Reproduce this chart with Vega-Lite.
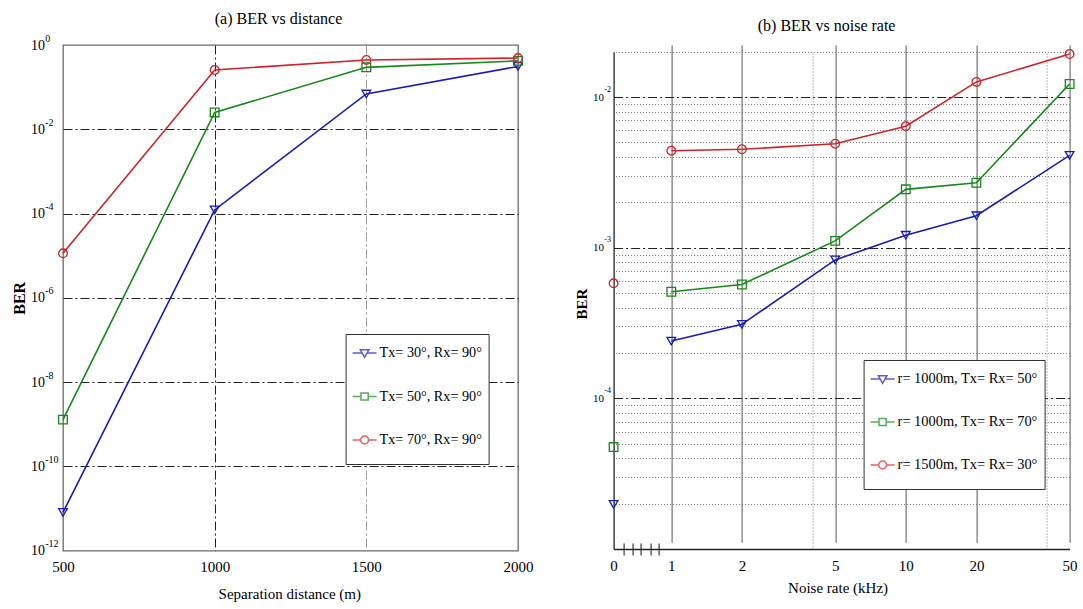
{
  "$schema": "https://vega.github.io/schema/vega-lite/v6.json",
  "background": "white",
  "padding": {"left": 10, "top": 10, "right": 0, "bottom": 0},
  "bounds": "flush",
  "spacing": 95.6,
  "resolve": {
    "scale": {"x": "independent", "y": "independent", "color": "independent", "shape": "independent"},
    "legend": {"color": "independent", "shape": "independent"}
  },
  "config": {
    "font": "Liberation Serif",
    "axis": {"labelFont": "Liberation Serif", "titleFont": "Liberation Serif", "labelColor": "#000", "titleColor": "#000", "ticks": false, "domain": false, "labelOverlap": false, "labelFlush": false},
    "legend": {"labelFont": "Liberation Serif", "labelColor": "#000"},
    "title": {"font": "Liberation Serif", "fontWeight": "normal", "color": "#000", "anchor": "middle"}
  },
  "hconcat": [
    {
      "width": 455,
      "height": 505.7,
      "view": {"stroke": "#6a6a6a", "strokeWidth": 1.3},
      "title": {"text": "(a) BER vs distance", "fontSize": 16, "offset": 5.8, "dx": -12},
      "data": {"values": [
        {"distance": 500, "ber": 8.1e-12, "setting": "Tx= 30°, Rx= 90°"},
        {"distance": 1000, "ber": 1.22e-4, "setting": "Tx= 30°, Rx= 90°"},
        {"distance": 1500, "ber": 0.0688, "setting": "Tx= 30°, Rx= 90°"},
        {"distance": 2000, "ber": 0.31, "setting": "Tx= 30°, Rx= 90°"},
        {"distance": 500, "ber": 1.29e-9, "setting": "Tx= 50°, Rx= 90°"},
        {"distance": 1000, "ber": 0.0251, "setting": "Tx= 50°, Rx= 90°"},
        {"distance": 1500, "ber": 0.295, "setting": "Tx= 50°, Rx= 90°"},
        {"distance": 2000, "ber": 0.42, "setting": "Tx= 50°, Rx= 90°"},
        {"distance": 500, "ber": 1.14e-5, "setting": "Tx= 70°, Rx= 90°"},
        {"distance": 1000, "ber": 0.255, "setting": "Tx= 70°, Rx= 90°"},
        {"distance": 1500, "ber": 0.44, "setting": "Tx= 70°, Rx= 90°"},
        {"distance": 2000, "ber": 0.49, "setting": "Tx= 70°, Rx= 90°"}
      ]},
      "resolve": {
        "scale": {"color": "independent", "shape": "independent"},
        "axis": {"x": "independent", "y": "independent"},
        "legend": {"color": "independent", "shape": "independent"}
      },
      "layer": [
        {
          "mark": {"type": "line", "strokeWidth": 1.6},
          "encoding": {
            "x": {"field": "distance", "type": "quantitative",
              "scale": {"domain": [500, 2000], "nice": false, "zero": false},
              "axis": {"orient": "bottom", "values": [500, 1000, 1500, 2000], "format": "d", "title": "Separation distance (m)", "titleFontSize": 15, "titleFontWeight": "normal",
                "titleX": 226.3, "titleY": 43, "titleAlign": "center", "titleBaseline": "middle",
                "labelFontSize": 15, "labelPadding": 9,
                "grid": true, "gridDash": [9, 3, 2, 3], "gridWidth": 1,
                "gridColor": {"condition": {"test": "datum.value == 1500", "value": "#999"}, "value": "#222"},
                "gridOpacity": {"condition": {"test": "datum.value < 600 || datum.value > 1900", "value": 0}, "value": 1}}},
            "y": {"field": "ber", "type": "quantitative",
              "scale": {"type": "log", "domain": [1e-12, 1], "nice": false},
              "axis": {"orient": "left", "values": [1e-12, 1e-10, 1e-8, 1e-6, 1e-4, 1e-2, 1],
                "labelExpr": "'10'", "labelFontSize": 14, "labelPadding": 18.5,
                "title": "BER", "titleFontSize": 16, "titleFontWeight": "bold", "titleX": -44, "titleY": 252.8, "titleAngle": 270, "titleAlign": "center", "titleBaseline": "middle",
                "grid": true, "gridDash": [9, 3, 2, 3], "gridColor": "#222", "gridWidth": 1,
                "gridOpacity": {"condition": {"test": "datum.value > 0.5 || datum.value < 1e-11", "value": 0}, "value": 1}}},
            "color": {"field": "setting", "type": "nominal",
              "scale": {"domain": ["Tx= 30°, Rx= 90°", "Tx= 50°, Rx= 90°", "Tx= 70°, Rx= 90°"], "range": ["#1a1ab8", "#17881a", "#d0222a"]},
              "legend": null}
          }
        },
        {
          "mark": {"type": "point", "filled": false, "size": 75, "strokeWidth": 1.3, "opacity": 1},
          "encoding": {
            "x": {"field": "distance", "type": "quantitative", "axis": null},
            "y": {"field": "ber", "type": "quantitative",
              "axis": {"orient": "left", "values": [1e-12, 1e-10, 1e-8, 1e-6, 1e-4, 1e-2, 1],
                "labelExpr": "'' + round(log(datum.value) / LN10)", "labelFontSize": 10, "labelPadding": 18.3, "labelAlign": "left", "labelOffset": -7,
                "title": null, "grid": false}},
            "color": {"field": "setting", "type": "nominal",
              "scale": {"domain": ["Tx= 30°, Rx= 90°", "Tx= 50°, Rx= 90°", "Tx= 70°, Rx= 90°"], "range": ["#1a1ab8", "#17881a", "#d0222a"]},
              "legend": null},
            "shape": {"field": "setting", "type": "nominal",
              "scale": {"domain": ["Tx= 30°, Rx= 90°", "Tx= 50°, Rx= 90°", "Tx= 70°, Rx= 90°"], "range": ["triangle-down", "square", "circle"]},
              "legend": null}
          }
        },
        {
          "transform": [{"filter": "false"}],
          "mark": {"type": "point", "filled": false, "strokeWidth": 1.5},
          "encoding": {
            "color": {"field": "setting", "type": "nominal",
              "scale": {"domain": ["Tx= 30°, Rx= 90°", "Tx= 50°, Rx= 90°", "Tx= 70°, Rx= 90°"], "range": ["#1a1ab8", "#17881a", "#d0222a"]},
              "legend": {"title": null, "orient": "none", "legendX": 282.6, "legendY": 289, "fillColor": "white", "strokeColor": "#333", "padding": 6, "labelFontSize": 14.2, "labelOffset": 2, "rowPadding": 7.5, "symbolSize": 576, "symbolStrokeWidth": 1.5}},
            "shape": {"field": "setting", "type": "nominal",
              "scale": {"domain": ["Tx= 30°, Rx= 90°", "Tx= 50°, Rx= 90°", "Tx= 70°, Rx= 90°"],
                "range": ["M-1,0H-0.2M0.2,0H1M-0.36,-0.28H0.36L0,0.36ZM0,-1.2M0,1.2", "M-1,0H-0.3M0.3,0H1M-0.3,-0.3H0.3V0.3H-0.3ZM0,-1.2M0,1.2", "M-1,0H-0.33M0.33,0A0.33,0.33,0,1,1,-0.33,0A0.33,0.33,0,1,1,0.33,0ZM0.33,0H1M0,-1.2M0,1.2"]},
              "legend": {"title": null, "orient": "none", "legendX": 282.6, "legendY": 289, "fillColor": "white", "strokeColor": "#333", "padding": 6, "labelFontSize": 14.2, "labelOffset": 2, "rowPadding": 7.5, "symbolSize": 576, "symbolStrokeWidth": 1.5}}
          }
        }
      ]
    },
    {
      "width": 456,
      "height": 504,
      "view": {"stroke": null},
      "title": {"text": "(b) BER vs noise rate", "fontSize": 16, "offset": 11.3, "dx": -15},
      "data": {"values": [
        {"noise": 0, "ber": 1.98e-5, "config": "r= 1000m, Tx= Rx= 50°"},
        {"noise": 1, "ber": 2.4e-4, "config": "r= 1000m, Tx= Rx= 50°"},
        {"noise": 2, "ber": 3.1e-4, "config": "r= 1000m, Tx= Rx= 50°"},
        {"noise": 5, "ber": 8.3e-4, "config": "r= 1000m, Tx= Rx= 50°"},
        {"noise": 10, "ber": 1.21e-3, "config": "r= 1000m, Tx= Rx= 50°"},
        {"noise": 20, "ber": 1.63e-3, "config": "r= 1000m, Tx= Rx= 50°"},
        {"noise": 50, "ber": 4.1e-3, "config": "r= 1000m, Tx= Rx= 50°"},
        {"noise": 0, "ber": 4.75e-5, "config": "r= 1000m, Tx= Rx= 70°"},
        {"noise": 1, "ber": 5.1e-4, "config": "r= 1000m, Tx= Rx= 70°"},
        {"noise": 2, "ber": 5.7e-4, "config": "r= 1000m, Tx= Rx= 70°"},
        {"noise": 5, "ber": 1.11e-3, "config": "r= 1000m, Tx= Rx= 70°"},
        {"noise": 10, "ber": 2.44e-3, "config": "r= 1000m, Tx= Rx= 70°"},
        {"noise": 20, "ber": 2.7e-3, "config": "r= 1000m, Tx= Rx= 70°"},
        {"noise": 50, "ber": 1.22e-2, "config": "r= 1000m, Tx= Rx= 70°"},
        {"noise": 0, "ber": 5.8e-4, "config": "r= 1500m, Tx= Rx= 30°"},
        {"noise": 1, "ber": 4.4e-3, "config": "r= 1500m, Tx= Rx= 30°"},
        {"noise": 2, "ber": 4.5e-3, "config": "r= 1500m, Tx= Rx= 30°"},
        {"noise": 5, "ber": 4.9e-3, "config": "r= 1500m, Tx= Rx= 30°"},
        {"noise": 10, "ber": 6.4e-3, "config": "r= 1500m, Tx= Rx= 30°"},
        {"noise": 20, "ber": 1.26e-2, "config": "r= 1500m, Tx= Rx= 30°"},
        {"noise": 50, "ber": 1.93e-2, "config": "r= 1500m, Tx= Rx= 30°"}
      ]},
      "resolve": {
        "scale": {"color": "independent", "shape": "independent"},
        "axis": {"x": "independent", "y": "independent"},
        "legend": {"color": "independent", "shape": "independent"}
      },
      "layer": [
        {
          "transform": [{"filter": "datum.noise > 0"}],
          "mark": {"type": "line", "strokeWidth": 1.6},
          "encoding": {
            "x": {"field": "noise", "type": "quantitative",
              "scale": {"type": "linear", "domain": [0, 1, 2, 4, 5, 10, 20, 40, 50], "range": [0, 57.7, 128.3, 198.9, 221.6, 292.2, 362.8, 433.4, 456], "nice": false, "zero": false},
              "axis": {"orient": "top", "values": [4, 40], "labels": false, "ticks": false, "domain": false, "title": null,
                "grid": true, "gridDash": [1, 2], "gridColor": "#777", "gridWidth": 1}},
            "y": {"field": "ber", "type": "quantitative",
              "scale": {"type": "log", "domain": [1e-5, 2e-2], "range": [504, 6.7], "nice": false},
              "axis": {"orient": "right", "values": [2e-5, 3e-5, 4e-5, 5e-5, 6e-5, 7e-5, 8e-5, 9e-5, 2e-4, 3e-4, 4e-4, 5e-4, 6e-4, 7e-4, 8e-4, 9e-4, 2e-3, 3e-3, 4e-3, 5e-3, 6e-3, 7e-3, 8e-3, 9e-3, 2e-2],
                "labels": false, "ticks": false, "domain": false, "title": null,
                "grid": true, "gridDash": [1, 2], "gridColor": "#777", "gridWidth": 1}},
            "color": {"field": "config", "type": "nominal",
              "scale": {"domain": ["r= 1000m, Tx= Rx= 50°", "r= 1000m, Tx= Rx= 70°", "r= 1500m, Tx= Rx= 30°"], "range": ["#1a1ab8", "#17881a", "#d0222a"]},
              "legend": null}
          }
        },
        {
          "mark": {"type": "point", "filled": false, "size": 75, "strokeWidth": 1.3, "opacity": 1},
          "encoding": {
            "x": {"field": "noise", "type": "quantitative",
              "scale": {"type": "linear", "domain": [0, 1, 2, 4, 5, 10, 20, 40, 50], "range": [0, 57.7, 128.3, 198.9, 221.6, 292.2, 362.8, 433.4, 456], "nice": false, "zero": false},
              "axis": {"orient": "bottom", "values": [0, 1, 2, 5, 10, 20, 50], "labelFontSize": 15, "labelPadding": 9,
                "title": "Noise rate (kHz)", "titleFontSize": 15, "titleFontWeight": "normal", "titleX": 224, "titleY": 38.4, "titleAlign": "center", "titleBaseline": "middle",
                "domain": true, "domainColor": "#222", "domainWidth": 1.3,
                "grid": true, "gridColor": "#555", "gridWidth": 1,
                "gridOpacity": {"condition": {"test": "datum.value == 0", "value": 0}, "value": 1}}},
            "y": {"field": "ber", "type": "quantitative",
              "scale": {"type": "log", "domain": [1e-5, 2e-2], "range": [504, 6.7], "nice": false},
              "axis": {"orient": "left", "values": [1e-4, 1e-3, 1e-2],
                "labelExpr": "'10'", "labelFontSize": 11, "labelPadding": 10,
                "title": "BER", "titleFontSize": 15, "titleFontWeight": "bold", "titleX": -32.3, "titleY": 258.7, "titleAngle": 270, "titleAlign": "center", "titleBaseline": "middle",
                "domain": true, "domainColor": "#222", "domainWidth": 1.3,
                "grid": true, "gridDash": [9, 3, 2, 3], "gridColor": "#222", "gridWidth": 1}},
            "color": {"field": "config", "type": "nominal",
              "scale": {"domain": ["r= 1000m, Tx= Rx= 50°", "r= 1000m, Tx= Rx= 70°", "r= 1500m, Tx= Rx= 30°"], "range": ["#1a1ab8", "#17881a", "#d0222a"]},
              "legend": null},
            "shape": {"field": "config", "type": "nominal",
              "scale": {"domain": ["r= 1000m, Tx= Rx= 50°", "r= 1000m, Tx= Rx= 70°", "r= 1500m, Tx= Rx= 30°"], "range": ["triangle-down", "square", "circle"]},
              "legend": null}
          }
        },
        {
          "transform": [{"filter": "false"}],
          "mark": {"type": "point", "filled": false, "strokeWidth": 1.5},
          "encoding": {
            "x": {"field": "noise", "type": "quantitative",
              "scale": {"type": "linear", "domain": [0, 1, 2, 4, 5, 10, 20, 40, 50], "range": [0, 57.7, 128.3, 198.9, 221.6, 292.2, 362.8, 433.4, 456], "nice": false, "zero": false},
              "axis": {"orient": "bottom", "values": [0.18, 0.33, 0.46, 0.64, 0.78], "labels": false, "domain": false, "grid": false, "title": null,
                "ticks": true, "tickSize": 12, "tickColor": "#111", "tickWidth": 1, "offset": -6}},
            "y": {"field": "ber", "type": "quantitative",
              "scale": {"type": "log", "domain": [1e-5, 2e-2], "range": [504, 6.7], "nice": false},
              "axis": {"orient": "left", "values": [1e-4, 1e-3, 1e-2],
                "labelExpr": "'' + round(log(datum.value) / LN10)", "labelFontSize": 8, "labelPadding": 9.8, "labelAlign": "left", "labelOffset": -8,
                "title": null, "grid": false}},
            "color": {"field": "config", "type": "nominal",
              "scale": {"domain": ["r= 1000m, Tx= Rx= 50°", "r= 1000m, Tx= Rx= 70°", "r= 1500m, Tx= Rx= 30°"], "range": ["#1a1ab8", "#17881a", "#d0222a"]},
              "legend": {"title": null, "orient": "none", "legendX": 250, "legendY": 315, "fillColor": "white", "strokeColor": "#333", "padding": 6, "labelFontSize": 14.4, "labelOffset": 2, "rowPadding": 7, "symbolSize": 576, "symbolStrokeWidth": 1.5}},
            "shape": {"field": "config", "type": "nominal",
              "scale": {"domain": ["r= 1000m, Tx= Rx= 50°", "r= 1000m, Tx= Rx= 70°", "r= 1500m, Tx= Rx= 30°"],
                "range": ["M-1,0H-0.2M0.2,0H1M-0.36,-0.28H0.36L0,0.36ZM0,-1.2M0,1.2", "M-1,0H-0.3M0.3,0H1M-0.3,-0.3H0.3V0.3H-0.3ZM0,-1.2M0,1.2", "M-1,0H-0.33M0.33,0A0.33,0.33,0,1,1,-0.33,0A0.33,0.33,0,1,1,0.33,0ZM0.33,0H1M0,-1.2M0,1.2"]},
              "legend": {"title": null, "orient": "none", "legendX": 250, "legendY": 315, "fillColor": "white", "strokeColor": "#333", "padding": 6, "labelFontSize": 14.4, "labelOffset": 2, "rowPadding": 7, "symbolSize": 576, "symbolStrokeWidth": 1.5}}
          }
        }
      ]
    }
  ]
}
